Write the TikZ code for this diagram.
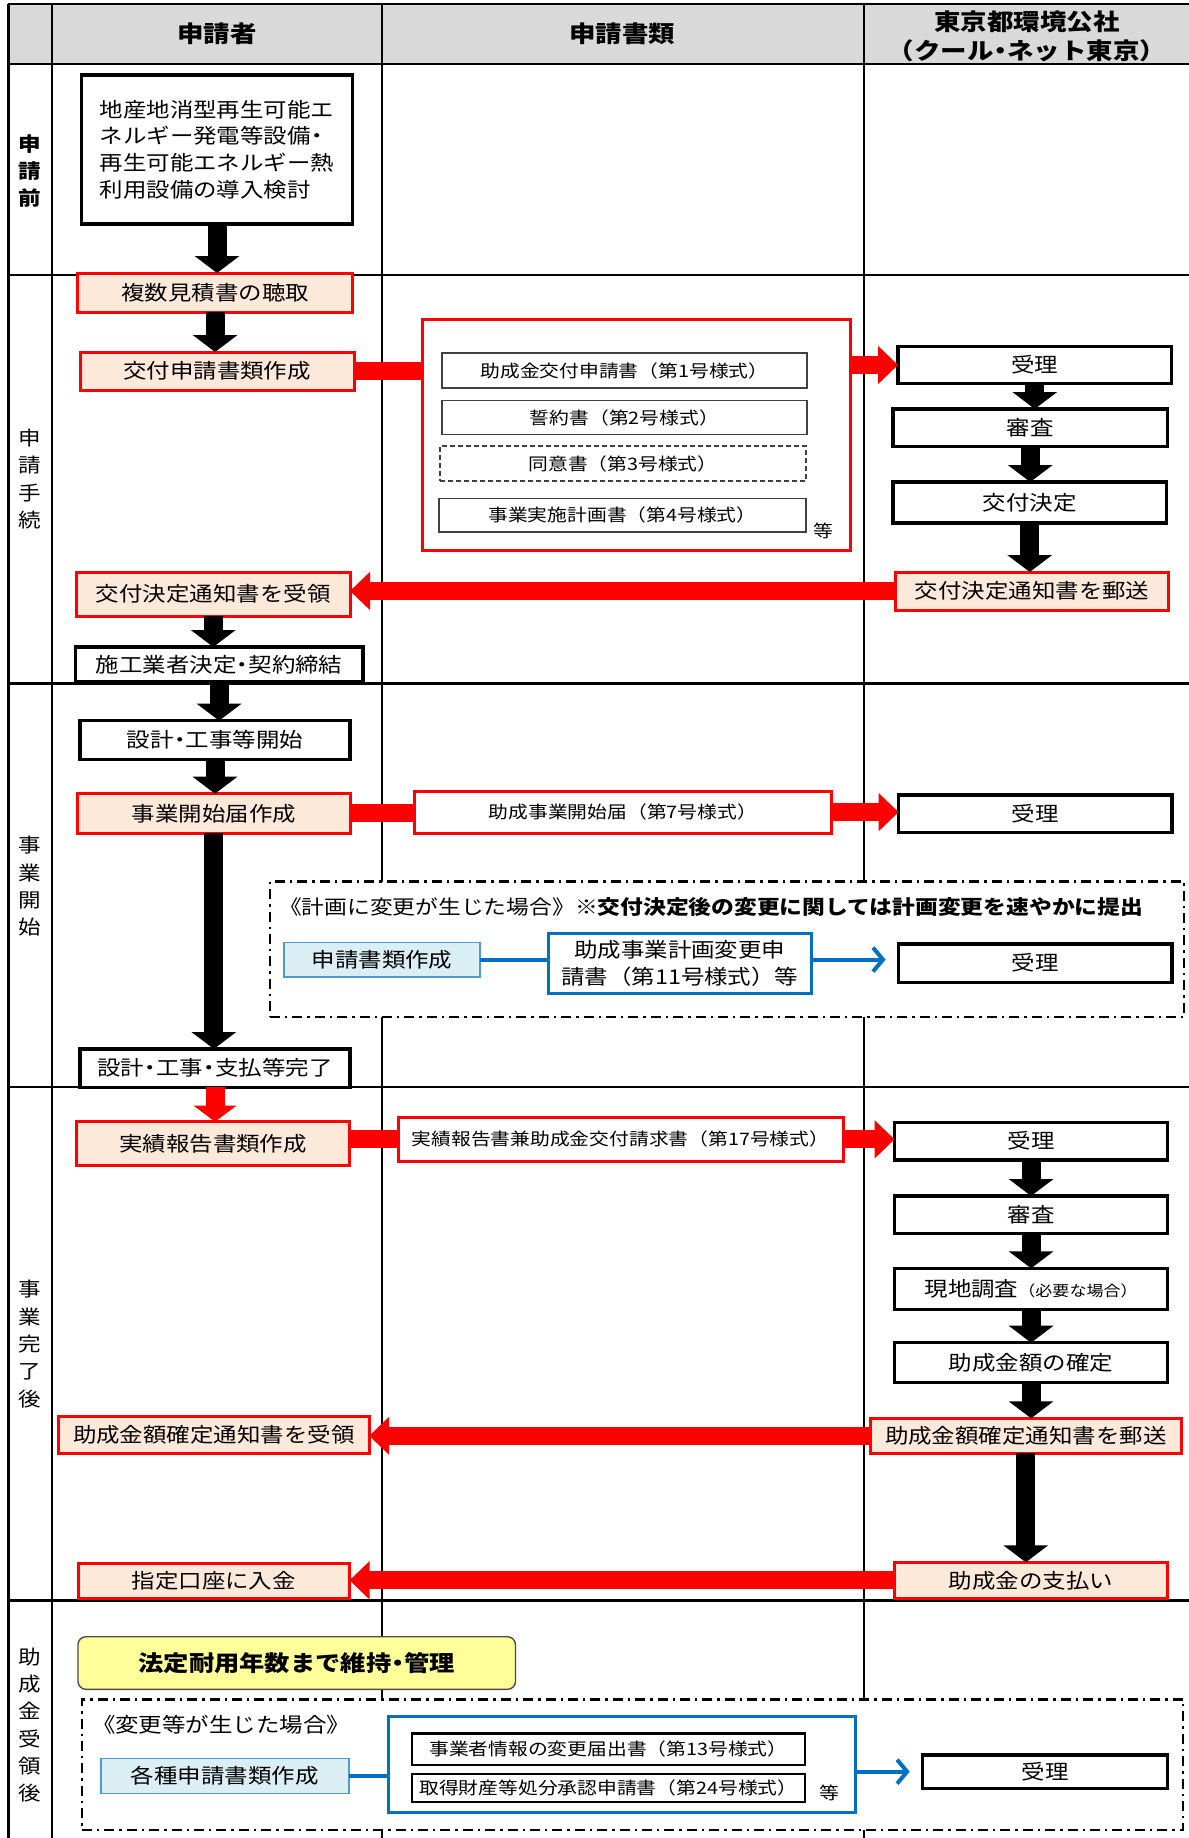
\documentclass[tikz,border=0pt]{standalone}
\usepackage{fontspec}
\setmainfont[FakeStretch=1.15]{Noto Sans CJK JP}
\usetikzlibrary{arrows.meta}
\definecolor{peach}{HTML}{FDE9D9}
\definecolor{hdr}{HTML}{D9D9D9}
\definecolor{myblue}{HTML}{0070C0}
\definecolor{lblue}{HTML}{DAEEF3}
\definecolor{lbluebd}{HTML}{4A9BD8}
\definecolor{yel}{HTML}{FFFF99}
\definecolor{myred}{HTML}{FF0000}
\definecolor{docgray}{HTML}{404040}
\newcommand{\fB}{\fontsize{10.2pt}{13.35pt}\selectfont}
\newcommand{\fH}{\fontsize{11.5pt}{14.5pt}\selectfont}
\newcommand{\fL}{\fontsize{9.8pt}{13.65pt}\selectfont}
\newcommand{\fD}{\fontsize{8.6pt}{10pt}\selectfont}
\newcommand{\fS}{\fontsize{7.4pt}{9pt}\selectfont}
\newcommand{\fY}{\fontsize{11pt}{13pt}\selectfont}
\newcommand{\nd}{\kern-0.28em・\kern-0.28em}
\newcommand{\BX}[7]{\node[#1, minimum width={(#5-#3)*0.5pt}, minimum height={(#6-#4)*0.5pt}] (#2) at ({(#3+#5)/2},{(#4+#6)/2}) {#7};}
\begin{document}
\begin{tikzpicture}[x=0.5pt,y=-0.5pt,
  every node/.style={inner sep=0pt, outer sep=0pt},
  base/.style={rectangle, font=\fB, align=center},
  blk/.style={base, draw=black, line width=1.7pt, fill=white},
  redbox/.style={base, draw=myred, line width=1.5pt, fill=peach},
  redwhite/.style={base, draw=myred, line width=1.5pt, fill=white},
  docbox/.style={base, font=\fD, draw=docgray, line width=0.75pt, fill=white},
  docdash/.style={docbox, dash pattern=on 2.5pt off 1.5pt},
  docblk/.style={base, font=\fD, draw=black, line width=1.2pt, fill=white},
  lbbox/.style={base, draw=lbluebd, line width=0.8pt, fill=lblue},
  bluebox/.style={base, draw=myblue, line width=1.5pt, fill=white},
  dashdot/.style={rectangle, draw=black, line width=1.2pt, fill=white, dash pattern=on 5pt off 2.5pt on 1.2pt off 2.5pt},
  yelbox/.style={base, font=\fY\bfseries, draw=black!70, line width=0.7pt, fill=yel, rounded corners=4pt},
  lbl/.style={font=\fL, align=center},
  hd/.style={font=\fH\bfseries, align=center},
  tline/.style={line width=1.4pt},
  cline/.style={line width=1pt},
  barrow/.style={draw=black, line width=9.5pt, -{Triangle[width=22pt,length=8.5pt]}},
  rarrowV/.style={draw=myred, line width=9.5pt, -{Triangle[width=21pt,length=8pt]}},
  rarrow/.style={draw=myred, line width=9pt, -{Triangle[width=18.5pt,length=10pt]}},
  rbar/.style={draw=myred, line width=9pt},
  bline/.style={draw=myblue, line width=2pt},
  barr/.style={draw=myblue, line width=2pt, -{Straight Barb[length=5pt,width=12pt]}, shorten >=6.5pt}
]
\useasboundingbox (0,0) rectangle (1189,1838);
% header
\fill[hdr] (8,4) rectangle (1189,64);
% table lines
\draw[tline] (8,4) -- (1189,4);
\draw[tline] (8,64) -- (1189,64);
\draw[tline] (8,275) -- (1189,275);
\draw[tline] (8,683.5) -- (1189,683.5);
\draw[tline] (8,1087) -- (1189,1087);
\draw[tline] (8,1600.5) -- (1189,1600.5);
\draw[tline] (8.4,4) -- (8.4,1838);
\draw[cline] (52,4) -- (52,1838);
\draw[cline] (381.5,4) -- (381.5,1838);
\draw[cline] (863.5,4) -- (863.5,1838);
% header texts
\node[hd] (h1) at (217,34) {申請者};
\node[hd] (h2) at (622,34) {申請書類};
\node[hd] (h3) at (1027,36) {東京都環境公社\\（クール\nd ネット東京）};
% row labels
\node[lbl, font=\fL\bfseries] (r1) at (30,171) {申\\請\\前};
\node[lbl] (r2) at (30,479) {申\\請\\手\\続};
\node[lbl] (r3) at (30,886.5) {事\\業\\開\\始};
\node[lbl] (r4) at (30,1344) {事\\業\\完\\了\\後};
\node[lbl] (r5) at (30,1725) {助\\成\\金\\受\\領\\後};
% dashed regions
\BX{dashdot}{G1}{270}{881.5}{1184}{1017}{}
\BX{dashdot}{G2}{82}{1699.3}{1183}{1830}{}
% section 1
\BX{blk, align=left}{A1}{81.5}{75}{352.5}{224}{地産地消型再生可能エ\\ネルギー発電等設備\kern-0.28em・\\再生可能エネルギー熱\\利用設備の導入検討}
\BX{redbox}{A2}{77.7}{273}{352.5}{312}{複数見積書の聴取}
\BX{redbox}{A3}{80}{352}{354}{390}{交付申請書類作成}
\BX{redwhite}{F1}{422}{319}{850}{550}{}
\BX{docbox}{D1}{441.8}{353}{807}{388}{助成金交付申請書（第1号様式）}
\BX{docbox}{D2}{441.8}{400.7}{807}{434.3}{誓約書（第2号様式）}
\BX{docdash}{D3}{440}{446}{806}{481}{同意書（第3号様式）}
\BX{docbox}{D4}{438.8}{498.7}{806}{532}{事業実施計画書（第4号様式）}
\node[font=\fD] (T1) at (823,531) {等};
\BX{blk}{B1}{898}{346.7}{1171.5}{383.3}{受理}
\BX{blk}{B2}{893}{409}{1167.5}{446.7}{審査}
\BX{blk}{B3}{893}{482}{1166.5}{523}{交付決定}
\BX{redbox}{B4}{895.7}{572}{1168.5}{610}{交付決定通知書を郵送}
\BX{redbox}{A4}{76.5}{572}{350}{616}{交付決定通知書を受領}
\BX{blk}{A5}{75.4}{647}{362.8}{681.7}{施工業者決定\nd 契約締結}
% section 2
\BX{blk}{A6}{80}{720.7}{350}{759.3}{設計\nd 工事等開始}
\BX{redbox}{A7}{77.7}{793.7}{350}{833}{事業開始届作成}
\BX{redwhite, font=\fD}{D5}{414}{791}{831.7}{833.3}{助成事業開始届（第7号様式）}
\BX{blk}{B5}{898.6}{795}{1172}{832.7}{受理}
\node[font=\fontsize{9.9pt}{12pt}\selectfont, anchor=west] (G1t) at (279,907) {《計画に変更が生じた場合》{\bfseries ※交付決定後の変更に関しては計画変更を速やかに提出}};
\BX{lbbox}{C1}{284}{942.5}{480}{976.7}{申請書類作成}
\BX{bluebox}{C2}{548.5}{933.3}{811}{993.3}{助成事業計画変更申\\請書（第11号様式）等}
\BX{blk}{B6}{898.6}{944}{1172}{982.3}{受理}
\BX{blk}{A8}{80}{1049}{350}{1087.3}{設計\nd 工事\nd 支払等完了}
% section 3
\BX{redbox}{A9}{76.6}{1121.7}{349.5}{1165}{実績報告書類作成}
\BX{redwhite, font=\fD}{D6}{398}{1117.7}{843}{1161}{実績報告書兼助成金交付請求書（第17号様式）}
\BX{blk}{B7}{894.6}{1122.3}{1167.6}{1160}{受理}
\BX{blk}{B8}{894.6}{1196}{1167.6}{1233.3}{審査}
\BX{blk}{B9}{894.6}{1268.3}{1167.6}{1309.3}{現地調査{\fS（必要な場合）}}
\BX{blk}{B10}{894.6}{1342.7}{1167.6}{1382.7}{助成金額の確定}
\BX{redbox}{B11}{870.4}{1418.3}{1181.2}{1453.3}{助成金額確定通知書を郵送}
\BX{redbox}{A10}{58.4}{1416}{369.2}{1453.3}{助成金額確定通知書を受領}
\BX{redbox}{B12}{894.6}{1562.3}{1167.6}{1598.3}{助成金の支払い}
\BX{redbox}{A11}{78}{1563.3}{349.5}{1598.3}{指定口座に入金}
% section 4
\BX{yelbox}{Y1}{78}{1636.7}{515.5}{1689.3}{法定耐用年数まで維持\nd 管理}
\node[font=\fB, anchor=west] (G2t) at (92,1725) {《変更等が生じた場合》};
\BX{lbbox}{C3}{100.8}{1758.3}{348.8}{1793.3}{各種申請書類作成}
\BX{bluebox}{F2}{388}{1716.7}{855}{1812.3}{}
\BX{docblk}{D7}{411.7}{1733.3}{805}{1765}{事業者情報の変更届出書（第13号様式）}
\BX{docblk}{D8}{411.7}{1774}{805}{1801.7}{取得財産等処分承認申請書（第24号様式）}
\node[font=\fD] (T2) at (829,1793) {等};
\BX{blk}{B13}{922.7}{1755}{1167.6}{1788.3}{受理}
% connectors
\draw[barrow] (A1.south) -- (A1.south |- A2.north);
\draw[barrow] (A2.south) -- (A2.south |- A3.north);
\draw[rbar] (A3.east) -- (A3.east -| F1.west);
\draw[rarrow] (F1.east |- B1.west) -- (B1.west);
\draw[barrow] (B1.south) -- (B1.south |- B2.north);
\draw[barrow] (B2.south) -- (B2.south |- B3.north);
\draw[barrow] (B3.south) -- (B3.south |- B4.north);
\draw[rarrow] (B4.west) -- (B4.west -| A4.east);
\draw[barrow] (A4.south) -- (A4.south |- A5.north);
\draw[barrow] (A5.south) -- (A5.south |- A6.north);
\draw[barrow] (A6.south) -- (A6.south |- A7.north);
\draw[rbar] (A7.east) -- (A7.east -| D5.west);
\draw[rarrow] (D5.east) -- (D5.east -| B5.west);
\draw[barrow] (A7.south) -- (A7.south |- A8.north);
\draw[bline] (C1.east) -- (C1.east -| C2.west);
\draw[barr] (C1.east -| C2.east) -- (C1.east -| B6.west);
\draw[rarrowV] (A8.south) -- (A8.south |- A9.north);
\draw[rbar] (D6.west -| A9.east) -- (D6.west);
\draw[rarrow] (D6.east) -- (D6.east -| B7.west);
\draw[barrow] (B7.south) -- (B7.south |- B8.north);
\draw[barrow] (B8.south) -- (B8.south |- B9.north);
\draw[barrow] (B9.south) -- (B9.south |- B10.north);
\draw[barrow] (B10.south) -- (B10.south |- B11.north);
\draw[rarrow] (B11.west) -- (B11.west -| A10.east);
\draw[barrow] (B11.south) -- (B11.south |- B12.north);
\draw[rarrow] (B12.west) -- (B12.west -| A11.east);
\draw[bline] (C3.east) -- (C3.east -| F2.west);
\draw[barr] (F2.east |- B13.west) -- (B13.west);
\end{tikzpicture}
\end{document}
